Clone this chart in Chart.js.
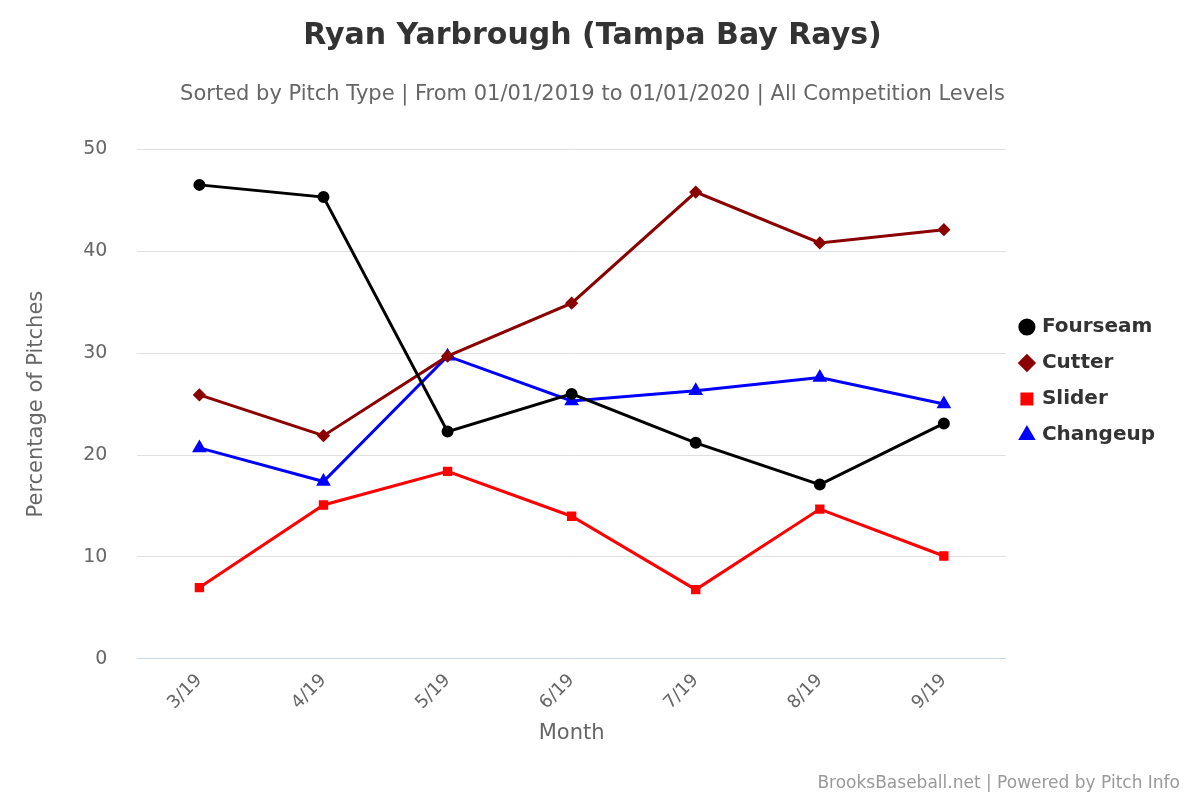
<!DOCTYPE html>
<html>
<head>
<meta charset="utf-8">
<script src="https://cdn.jsdelivr.net/npm/chart.js@4"></script>
<style>
  body { margin: 0; background: #fff; }
  #wrap { position: relative; width: 1200px; height: 800px; }
  #credit { position: absolute; right: 20px; bottom: 8px; font: 17px "DejaVu Sans", sans-serif; color: #999; }
</style>
</head>
<body>
<div id="wrap">
  <canvas id="pitchChart" width="1200" height="800"></canvas>
  <div id="credit">BrooksBaseball.net | Powered by Pitch Info</div>
</div>
<script>
const months = ['3/19', '4/19', '5/19', '6/19', '7/19', '8/19', '9/19'];
const fourseam = [46.5, 45.3, 22.3, 26.0, 21.2, 17.1, 23.1];
const cutter = [25.9, 21.9, 29.7, 34.9, 45.8, 40.8, 42.1];
const slider = [7.0, 15.1, 18.4, 14.0, 6.8, 14.7, 10.1];
const changeup = [20.7, 17.4, 29.7, 25.3, 26.3, 27.6, 25.0];

document.addEventListener('DOMContentLoaded', function () {
    const ctx = document.getElementById('pitchChart');
    const font = 'DejaVu Sans';
    function series(label, data, color, style, radius) {
        return {
            label: label, data: data, borderColor: color, backgroundColor: color,
            borderWidth: 3, pointStyle: style, pointRadius: radius, pointHoverRadius: radius,
            fill: false, tension: 0
        };
    }
    new Chart(ctx, {
        type: 'line',
        data: {
            labels: months,
            datasets: [
                series('Fourseam', fourseam, '#000000', 'circle', 4.5),
                series('Cutter', cutter, '#8b0000', 'rectRot', 4.5),
                series('Slider', slider, '#ff0000', 'rect', 4.5),
                series('Changeup', changeup, '#0000ff', 'triangle', 5.5)
            ]
        },
        options: {
            responsive: false,
            animation: false,
            layout: { padding: { left: 20, right: 35, top: 12, bottom: 50 } },
            plugins: {
                title: { display: true, text: 'Ryan Yarbrough (Tampa Bay Rays)', color: '#333',
                    font: { family: font, size: 30, weight: 'bold' }, padding: { top: 6, bottom: 28 } },
                subtitle: { display: true, text: 'Sorted by Pitch Type | From 01/01/2019 to 01/01/2020 | All Competition Levels',
                    color: '#666', font: { family: font, size: 21 }, padding: { bottom: 42 } },
                legend: { position: 'right', labels: { usePointStyle: true, boxWidth: 10, boxHeight: 10, color: '#333', padding: 16,
                    font: { family: font, size: 20, weight: 'bold' } } },
                tooltip: { enabled: false }
            },
            scales: {
                x: {
                    offset: true,
                    grid: { display: false },
                    border: { color: '#ccd6eb' },
                    ticks: { color: '#666', maxRotation: 45, minRotation: 45, font: { family: font, size: 18 } },
                    title: { display: true, text: 'Month', color: '#666', font: { family: font, size: 21 } }
                },
                y: {
                    min: 0, max: 50,
                    ticks: { stepSize: 10, color: '#666', padding: 30, font: { family: font, size: 19 } },
                    grid: { color: '#e0e0e0', drawTicks: false },
                    border: { display: false },
                    title: { display: true, text: 'Percentage of Pitches', color: '#666', font: { family: font, size: 21 } }
                }
            }
        }
    });
});
</script>
</body>
</html>
